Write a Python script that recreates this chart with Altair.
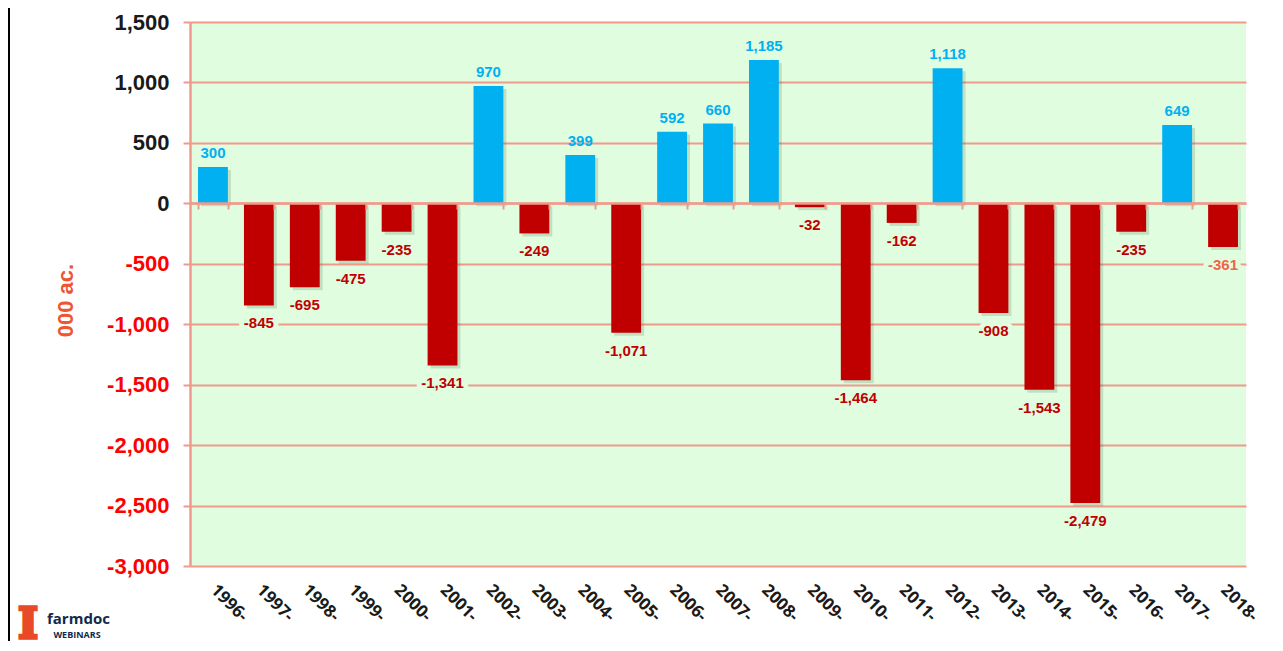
import altair as alt
import pandas as pd

years = ["1996-", "1997-", "1998-", "1999-", "2000-", "2001-", "2002-", "2003-",
         "2004-", "2005-", "2006-", "2007-", "2008-", "2009-", "2010-", "2011-",
         "2012-", "2013-", "2014-", "2015-", "2016-", "2017-", "2018-"]
values = [300, -845, -695, -475, -235, -1341, 970, -249,
          399, -1071, 592, 660, 1185, -32, -1464, -162,
          1118, -908, -1543, -2479, -235, 649, -361]
y_ticks = [-3000, -2500, -2000, -1500, -1000, -500, 0, 500, 1000, 1500]
y_title = "000 ac."
logo_mark = ["I"]
logo_name = ["farmdoc"]
logo_sub = ["WEBINARS"]

df = pd.DataFrame({"year": years, "value": values})

BG = "#e0fde0"
GRID = "#f09a8c"
BLUE = "#00b0f0"
RED = "#c00000"
ORANGE = "#e84a27"

x_enc = alt.X(
    "year:N", sort=None, title=None,
    scale=alt.Scale(paddingInner=0.35, paddingOuter=0.175),
    axis=alt.Axis(
        orient="bottom", offset=-363, zindex=1,
        domain=True, domainColor=GRID, domainWidth=2.5,
        ticks=True, tickBand="extent", tickSize=6, tickColor=GRID, tickWidth=2,
        grid=False,
        labelAngle=45, labelAlign="left", labelBaseline="middle", labelPadding=378,
        labelFont="Open Sans", labelFontWeight="bold", labelFontSize=17,
        labelColor="#1a1a1a",
    ),
)
y_enc = alt.Y(
    "value:Q",
    scale=alt.Scale(domain=[-3000, 1500], nice=False),
    axis=alt.Axis(
        values=y_ticks, format=",d", title=y_title,
        grid=True, gridColor=GRID, gridWidth=2,
        domain=True, domainColor=GRID, domainWidth=2.5,
        ticks=True, tickColor=GRID, tickSize=7, tickWidth=2,
        labelFont="Liberation Sans", labelFontWeight="bold", labelFontSize=22,
        labelPadding=14,
        labelColor={"condition": {"test": "datum.value < 0", "value": "#ff0000"},
                    "value": "#1a1a1a"},
        titleFont="Liberation Sans", titleFontWeight="bold", titleFontSize=22,
        titleColor="#ee5533", titleAngle=-90, titleAlign="center",
        titleBaseline="middle", titleX=-125, titleY=278,
    ),
)

base = alt.Chart(df)

shadow = base.mark_bar(color="#3a5a3a", opacity=0.18, xOffset=3, yOffset=3).encode(
    x=x_enc, y=y_enc
)
bars = base.mark_bar().encode(
    x=x_enc, y=y_enc,
    color=alt.condition("datum.value > 0", alt.value(BLUE), alt.value(RED)),
)
pos_labels = base.transform_filter("datum.value > 0").mark_text(
    font="Liberation Sans", fontWeight="bold", fontSize=15, dy=-14,
    baseline="middle", color=BLUE,
).encode(x=x_enc, y=y_enc, text=alt.Text("value:Q", format=",d"))

neg_halo = base.transform_filter("datum.value < 0").mark_text(
    font="Liberation Sans", fontWeight="bold", fontSize=15, dy=18,
    baseline="middle", color=BG, stroke=BG, strokeWidth=10, strokeJoin="round",
).encode(x=x_enc, y=y_enc, text=alt.Text("value:Q", format=",d"))

neg_labels = base.transform_filter("datum.value < 0").mark_text(
    font="Liberation Sans", fontWeight="bold", fontSize=15, dy=18,
    baseline="middle",
).encode(
    x=x_enc, y=y_enc, text=alt.Text("value:Q", format=",d"),
    color=alt.condition("datum.year == '2018-'", alt.value("#ef6447"), alt.value(RED)),
)

logo_i = alt.Chart(pd.DataFrame({"t": logo_mark})).mark_text(
    font="DejaVu Serif", fontWeight="bold", fontSize=42, color=ORANGE,
    stroke=ORANGE, strokeWidth=3.5, strokeJoin="miter",
    baseline="alphabetic", align="center",
).encode(x=alt.value(-162), y=alt.value(616), text="t:N")
logo_n = alt.Chart(pd.DataFrame({"t": logo_name})).mark_text(
    font="Open Sans", fontWeight="bold", fontSize=15, color="#13294b",
    baseline="middle", align="left",
).encode(x=alt.value(-143), y=alt.value(597), text="t:N")
logo_s = alt.Chart(pd.DataFrame({"t": logo_sub})).mark_text(
    font="Open Sans", fontWeight="bold", fontSize=9, color="#13294b",
    baseline="middle", align="center",
).encode(x=alt.value(-113), y=alt.value(613), text="t:N")

edge = alt.Chart(pd.DataFrame({"t": logo_mark})).mark_rule(
    color="black", strokeWidth=2
).encode(x=alt.value(-181), y=alt.value(-14), y2=alt.value(629))

chart = alt.layer(
    shadow, bars, pos_labels, neg_halo, neg_labels, logo_i, logo_n, logo_s, edge
).properties(
    width=1056, height=544,
    padding={"left": 182, "top": 14, "right": 29, "bottom": 75},
    autosize=alt.AutoSizeParams(type="none"),
).configure(
    locale={"number": {"decimal": ".", "thousands": ",", "grouping": [3],
                       "currency": ["$", ""], "minus": "-"}}
).configure_view(fill=BG, strokeWidth=0)

chart.save("out.html", embed_options={"renderer": "svg", "actions": False})
